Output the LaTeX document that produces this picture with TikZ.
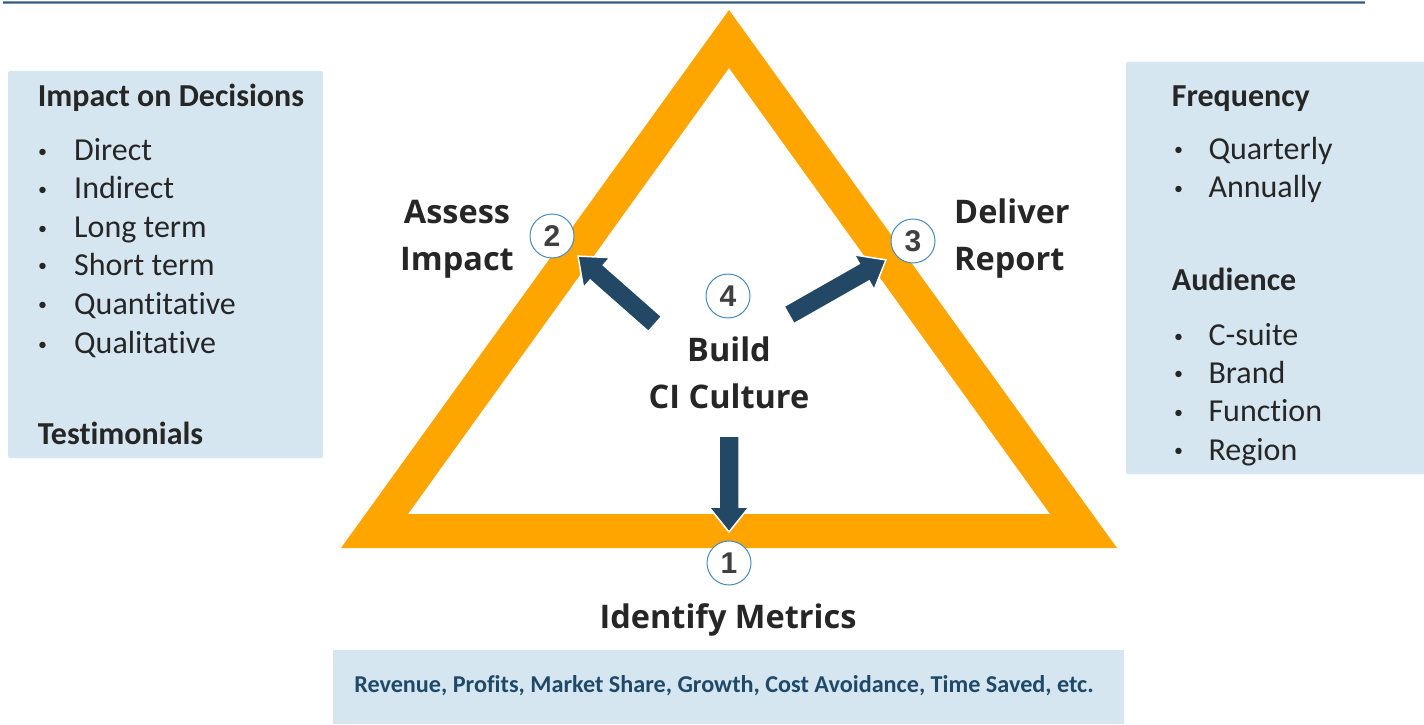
\documentclass[tikz,border=0pt]{standalone}
\usepackage{fontspec}
\setmainfont{Carlito}[Ligatures=NoCommon]
\newfontfamily\titlefont{Open Sans}
\newfontfamily\digitfont{Liberation Sans}
\usetikzlibrary{calc}

\definecolor{triorange}{RGB}{255,165,0}
\definecolor{boxblue}{RGB}{214,230,240}
\definecolor{arrowblue}{RGB}{35,72,102}
\definecolor{ringblue}{RGB}{70,140,190}
\definecolor{inkgray}{RGB}{38,38,38}
\definecolor{digitgray}{RGB}{64,64,64}
\definecolor{metricblue}{RGB}{31,73,105}
\definecolor{rulecolor}{RGB}{55,85,115}
\definecolor{ruleedge}{RGB}{120,150,180}

\tikzset{
  panel/.style={fill=boxblue, draw=none, rounded corners=2pt},
  heading/.style={anchor=base west, inner sep=0pt, text=inkgray,
    font=\fontsize{32}{38.4}\selectfont\bfseries},
  item/.style={anchor=base west, inner sep=0pt, text=inkgray,
    font=\fontsize{32}{38.4}\selectfont},
  steplabel/.style={inner sep=0pt, text=inkgray,
    font=\titlefont\bfseries\fontsize{32.5}{47}\selectfont},
  numring/.style={circle, minimum size=44pt, inner sep=0pt, fill=white,
    draw=ringblue, line width=1pt, text=digitgray,
    font=\digitfont\bfseries\fontsize{30}{30}\selectfont},
  arrowbody/.style={fill=arrowblue, draw=white, line width=1.5pt, line join=miter},
}

% bullet line: a small bullet at the west end, the text after a fixed gap
\newcommand\bul[2]{\makebox[#1][l]{\raisebox{3.3pt}{\fontsize{18}{18}\selectfont\textbullet}}#2}

% block arrow from a named tail, at an angle, of a given length
\newcommand\blockarrow[3]{%
  \begin{scope}[shift={(#1)}, rotate=#2]
    \filldraw[arrowbody] (0,-10) -- ({#3-25},-10) -- ({#3-25},-20) -- (#3,0)
      -- ({#3-25},20) -- ({#3-25},10) -- (0,10) -- cycle;
  \end{scope}}

\begin{document}
\begin{tikzpicture}[x=1pt,y=1pt]
\useasboundingbox (0,0) rectangle (1424,724);

% header rule
\draw[ruleedge, line width=3.2pt] (3,721.5) -- (1365,721.5);
\draw[rulecolor, line width=1.6pt] (3,721.5) -- (1365,721.5);

% side and bottom panels
\fill[panel] (8,266) rectangle (323,653);
\fill[panel] (1126,250) rectangle (1430,662);
\fill[boxblue] (333,0) rectangle (1124,74);

% orange triangle frame
\fill[triorange, even odd rule]
  (729,714) -- (341,176) -- (1117,176) -- cycle
  (729,656) -- (408,210) -- (1050,210) -- cycle;

% arrows from the centre outwards
\coordinate (tail1) at (729,288);
\coordinate (tail2) at (655,400);
\coordinate (tail3) at (789,409);
\blockarrow{tail1}{-90}{96}
\blockarrow{tail2}{138.6}{102.7}
\blockarrow{tail3}{29.6}{111.5}

% numbered rings
\node[numring] (n1) at (729,161) {1};
\node[numring] (n2) at (552,488) {2};
\node[numring] (n3) at (913,483) {3};
\node[numring] (n4) at (728,428) {4};

% step labels
\node[steplabel, align=center] (assess) at (457,484.5) {Assess\\Impact};
\node[steplabel, align=left, anchor=west] (deliver) at (954,485.5) {Deliver\\Report};
\node[steplabel, align=center] (build) at (729,351) {Build\\CI Culture};
\node[steplabel] (identify) at (728,104) {Identify Metrics};

% bottom panel text
\node[inner sep=0pt, text=metricblue, font=\fontsize{24.2}{26}\selectfont\bfseries]
  (metrics) at (724,38) {Revenue, Profits, Market Share, Growth, Cost Avoidance, Time Saved, etc.};

% left panel text
\node[heading] (impact) at (37.7,617.7) {Impact on Decisions};
\node[item] (l1) at (38,563) {\bul{36pt}{Direct}};
\node[item] (l2) at (38,525.3) {\bul{36pt}{Indirect}};
\node[item] (l3) at (38,486.3) {\bul{36pt}{Long term}};
\node[item] (l4) at (38,448.7) {\bul{36pt}{Short term}};
\node[item] (l5) at (38,409.7) {\bul{36pt}{Quantitative}};
\node[item] (l6) at (38,370.3) {\bul{36pt}{Qualitative}};
\node[heading] (testim) at (37.7,279.3) {Testimonials};

% right panel text
\node[heading] (freq) at (1171.7,617.3) {Frequency};
\node[item] (r1) at (1174,564.7) {\bul{34.3pt}{Quarterly}};
\node[item] (r2) at (1174,526.3) {\bul{34.3pt}{Annually}};
\node[heading] (aud) at (1171.7,433.3) {Audience};
\node[item] (r3) at (1174,378.3) {\bul{34.3pt}{C-suite}};
\node[item] (r4) at (1174,340.7) {\bul{34.3pt}{Brand}};
\node[item] (r5) at (1174,302.3) {\bul{34.3pt}{Function}};
\node[item] (r6) at (1174,264) {\bul{34.3pt}{Region}};
\end{tikzpicture}
\end{document}
